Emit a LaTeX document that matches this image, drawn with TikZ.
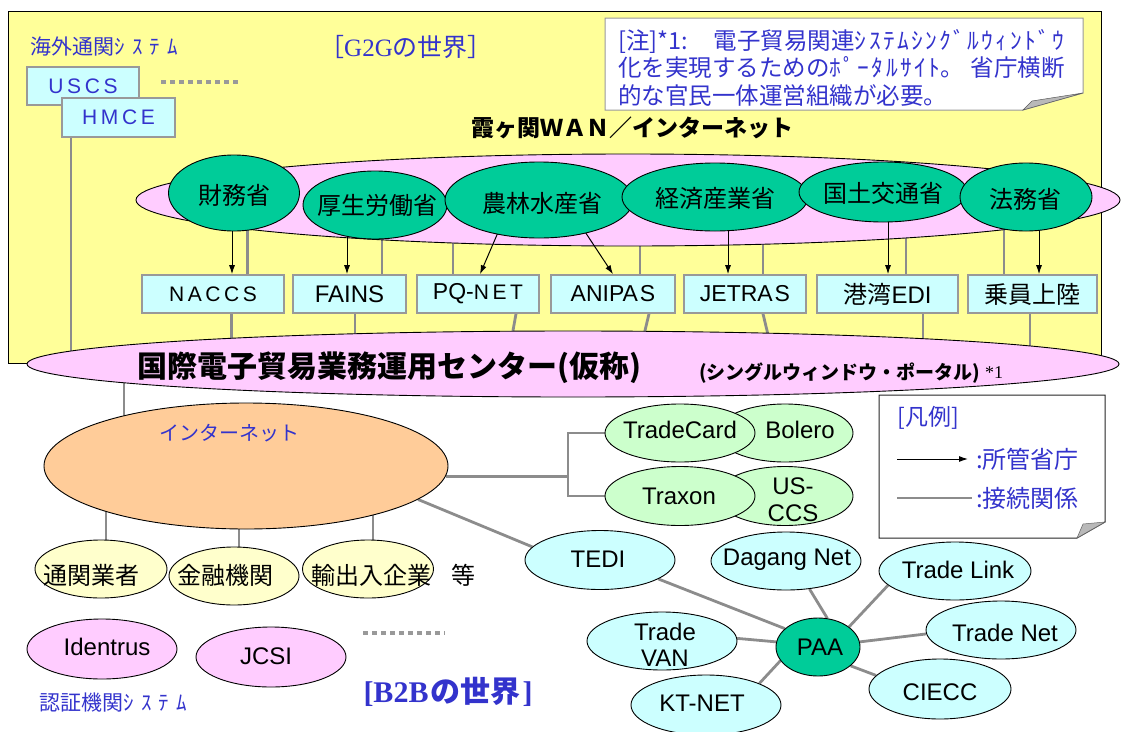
\documentclass[tikz,border=0pt]{standalone}
\usepackage{fontspec}
\setmainfont{Liberation Sans}
\newfontfamily\jp{Noto Sans CJK JP}
\newfontfamily\serif{Liberation Serif}
\usetikzlibrary{shapes.geometric,arrows.meta,calc}
\pgfdeclarelayer{l0}\pgfdeclarelayer{l1}\pgfdeclarelayer{l2}\pgfdeclarelayer{l3}
\pgfsetlayers{l0,l1,l2,l3,main}
\newcommand\myfs[1]{\fontsize{#1}{#1}\selectfont}
\newcommand\lgap{\hspace{3.6pt}}
\definecolor{yel}{HTML}{FFFF99}
\definecolor{pinkL}{HTML}{FFCCFF}
\definecolor{greenD}{HTML}{00CC99}
\definecolor{cyanL}{HTML}{CCFFFF}
\definecolor{orangeL}{HTML}{FFCC99}
\definecolor{yelL}{HTML}{FFFFCC}
\definecolor{greenL}{HTML}{CCFFCC}
\definecolor{blu}{HTML}{3333CC}
\definecolor{conngray}{HTML}{8C8C8C}
\definecolor{boxgray}{HTML}{999999}
\begin{document}
\begin{tikzpicture}[x=1pt,y=-1pt,
  E/.style 2 args={ellipse, draw=black, line width=0.9pt, inner sep=0pt, minimum width=#1, minimum height=#2},
  sbox/.style={rectangle, draw=boxgray, line width=1.6pt, fill=cyanL, inner sep=0pt, minimum height=38pt},
  conn/.style={draw=conngray, line width=2.8pt},
  arr/.style={draw=black, line width=1pt, -{Latex[length=9pt,width=6pt]}},
  txt/.style={inner sep=0pt, font=\jp\myfs{24}},
  ltx/.style={inner sep=0pt, font=\myfs{24}},
  btxt/.style={inner sep=0pt, text=blu},
  dotl/.style={draw=boxgray, line width=4pt, dash pattern=on 5pt off 4pt}]
\useasboundingbox (0,0) rectangle (1121,731);

\begin{pgfonlayer}{l0}
\draw[fill=yel, line width=0.9pt] (8,11) rectangle (1101,363);
\end{pgfonlayer}

% ---------- top left
\node[btxt, anchor=west, font=\jp\myfs{21}] (kaigai) at (30,47) {海外通関{\addfontfeature{LetterSpace=35}ｼｽﾃﾑ}};
\node[btxt, font=\myfs{25}] (g2g) at (406,47) {{\jp ［}{\serif G2G}{\jp の世界］}};
\node[sbox, minimum width=112pt, text=blu, font=\myfs{21}] (uscs) at (83,86) {U\lgap S\lgap C\lgap S};
\node[sbox, minimum width=113pt, minimum height=39pt, text=blu, font=\myfs{21}] (hmce) at (118.5,117.5) {H\lgap M\lgap C\lgap E};
\draw[dotl] (161,82) -- (239,82);

% ---------- note
\draw[fill=white, draw=boxgray, line width=1pt] (605,18) -- (1083,18) -- (1083,93) -- (1023,110) -- (605,110) -- cycle;
\fill[gray!55, draw=gray!70!black, line width=0.5pt] (1023,110) -- (1083,93) -- (1032,101) -- cycle;
\node[btxt, anchor=north west, align=left, font=\jp\fontsize{23.5}{27.5}\selectfont] (note) at (618,29)
 {[注]*1:\hspace{1.1em}電子貿易関連{\addfontfeature{LetterSpace=10}ｼｽﾃﾑｼﾝｸﾞﾙｳｨﾝﾄﾞｳ}\\
  化を実現するための{\addfontfeature{LetterSpace=10}ﾎﾟｰﾀﾙｻｲﾄ}。\hspace{0.3em}省庁横断\\
  的な官民一体運営組織が必要。};

\node[inner sep=0pt, font=\jp\bfseries\myfs{23}] (wantitle) at (632,128) {霞ヶ関ＷＡＮ／インターネット};

% ---------- big ellipses
\begin{pgfonlayer}{l2}
\node[E={984pt}{92pt}, fill=pinkL] (wan) at (628,200) {};
\node[E={1092pt}{66pt}, fill=pinkL] (cen) at (573,364) {};
\node[E={404pt}{126pt}, fill=orangeL] (inet) at (246,466) {};
\end{pgfonlayer}

% ---------- ministries
\node[E={131pt}{76pt}, fill=greenD] (zaimu) at (234,193) {};
\node[E={144pt}{68pt}, fill=greenD] (kosei) at (375,205) {};
\node[E={188pt}{76pt}, fill=greenD] (norin) at (539,200) {};
\node[E={186pt}{68pt}, fill=greenD] (keizai) at (715,197) {};
\node[E={168pt}{60pt}, fill=greenD] (kokudo) at (883,192) {};
\node[E={132pt}{68pt}, fill=greenD] (homu) at (1026,197) {};
\node[txt] (zaimuT) at (234,195) {財務省};
\node[txt] (koseiT) at (377,205) {厚生労働省};
\node[txt] (norinT) at (542,203) {農林水産省};
\node[txt] (keizaiT) at (715,198) {経済産業省};
\node[txt] (kokudoT) at (883,193) {国土交通省};
\node[txt] (homuT) at (1025,199) {法務省};

% ---------- systems
\node[sbox, minimum width=142pt, font=\myfs{21}] (naccs) at (213,294) {N\lgap A\lgap C\lgap C\lgap S};
\node[sbox, minimum width=113pt, font=\myfs{24}] (fains) at (349.5,294) {FAINS};
\node[sbox, minimum width=122pt, font=\myfs{23}] (pqnet) at (478,294) {PQ-{\myfs{21}N\lgap E\lgap T}};
\node[sbox, minimum width=124pt, font=\myfs{23}] (anipas) at (613,294) {ANIPA\hspace{2pt}S};
\node[sbox, minimum width=122pt, font=\myfs{23}] (jetras) at (745,294) {JETRA\hspace{2pt}S};
\node[sbox, minimum width=141pt, font=\myfs{24}] (kowan) at (887.5,294) {{\jp 港湾}EDI};
\node[sbox, minimum width=129pt, font=\jp\myfs{24}] (join) at (1032.5,294) {乗員上陸};

% ---------- arrows (ministry -> system)
\begin{pgfonlayer}{l3}
\draw[arr] ($(zaimu.center)+(-2,0)$) -- ($(zaimu.center |- naccs.north)+(-2,0)$);
\draw[arr] ($(kosei.center)+(-28,0)$) -- ($(kosei.center |- fains.north)+(-28,0)$);
\draw[arr] ($(norin.center)+(-27,0)$) -- ($(pqnet.north)+(2,0)$);
\draw[arr] ($(norin.center)+(25,0)$) -- (anipas.north);
\draw[arr] ($(keizai.center)+(13,0)$) -- ($(keizai.center |- jetras.north)+(13,0)$);
\draw[arr] ($(kokudo.center)+(5,0)$) -- ($(kokudo.center |- kowan.north)+(5,0)$);
\draw[arr] ($(homu.center)+(13,0)$) -- ($(homu.center |- join.north)+(13,0)$);
\end{pgfonlayer}

% ---------- centre texts
\node[inner sep=0pt, anchor=west, font=\jp\bfseries\myfs{30}] (cenT) at (137,368) {国際電子貿易業務運用センター(仮称)};
\node[inner sep=0pt, anchor=west, font=\jp\bfseries\myfs{19}] (cenT2) at (699,373) {(シングルウィンドウ・ポータル)};
\node[inner sep=0pt, anchor=west, font=\serif\myfs{18}] (cenT3) at (985,373) {*1};

% ---------- B2B side
\node[btxt, font=\jp\myfs{20}] (inetT) at (229,433) {インターネット};
\node[E={132pt}{58pt}, fill=yelL] (tsukan) at (101,569) {};
\node[E={130pt}{58pt}, fill=yelL] (kinyu) at (234,576) {};
\node[E={131pt}{58pt}, fill=yelL] (yushutsu) at (368,569) {};
\node[txt] (tsukanT) at (91,575) {通関業者};
\node[txt] (kinyuT) at (225,575) {金融機関};
\node[txt] (yushutsuT) at (371,575) {輸出入企業};
\node[txt] (toT) at (463,575) {等};

\node[E={150pt}{60pt}, fill=pinkL] (identrus) at (102,649) {};
\node[E={150pt}{60pt}, fill=pinkL] (jcsi) at (271,657) {};
\node[ltx] (identrusT) at (107,647) {Identrus};
\node[ltx] (jcsiT) at (266,656) {JCSI};
\draw[dotl] (363,633) -- (445,633);
\node[btxt, anchor=west, font=\jp\myfs{21}] (ninsho) at (39,703) {認証機関{\addfontfeature{LetterSpace=35}ｼｽﾃﾑ}};
\node[btxt, font=\bfseries\myfs{30}] (b2b) at (448,692) {{\serif [B2B}{\jp\hspace{2pt}の世界\hspace{2pt}}{\serif ]}};

\node[E={136pt}{58pt}, fill=greenL] (bolero) at (785,433) {};
\node[E={150pt}{58pt}, fill=greenL] (tcard) at (680,433) {};
\node[E={136pt}{59pt}, fill=greenL] (usccs) at (785,496) {};
\node[E={150pt}{59pt}, fill=greenL] (traxon) at (680,496) {};
\node[ltx] (tcardT) at (680,430) {TradeCard};
\node[ltx] (boleroT) at (800,430) {Bolero};
\node[ltx] (traxonT) at (679,496) {Traxon};
\node[ltx, align=center, font=\fontsize{24}{27}\selectfont] (usccsT) at (793,500) {US-\\CCS};

\node[E={150pt}{59pt}, fill=cyanL] (tedi) at (600,560) {};
\node[E={150pt}{58pt}, fill=cyanL] (dagang) at (786,561) {};
\node[E={152pt}{58pt}, fill=cyanL] (tlink) at (955,571) {};
\node[E={150pt}{58pt}, fill=cyanL] (tnet) at (1001,630) {};
\node[E={142pt}{60pt}, fill=cyanL] (ciecc) at (940,689) {};
\node[E={150pt}{60pt}, fill=cyanL] (ktnet) at (706,705) {};
\node[E={150pt}{58pt}, fill=cyanL] (tvan) at (662,641) {};
\node[E={84pt}{58pt}, fill=greenD] (paa) at (818,647) {};
\node[ltx] (tediT) at (598,559) {TEDI};
\node[ltx] (dagangT) at (787,560) {Dagang Net};
\node[ltx] (tlinkT) at (958,570) {Trade Link};
\node[ltx] (tnetT) at (1005,633) {Trade Net};
\node[ltx] (cieccT) at (940,692) {CIECC};
\node[ltx] (ktnetT) at (702,703) {KT-NET};
\node[ltx, align=center, font=\fontsize{24}{26}\selectfont] (tvanT) at (665,645) {Trade\\VAN};
\node[ltx] (paaT) at (820,647) {PAA};

% ---------- legend
\draw[fill=white, draw=black!85, line width=1pt] (879,395) -- (1105,395) -- (1105,522) -- (1077,538) -- (879,538) -- cycle;
\fill[gray!55, draw=black!60, line width=0.5pt] (1077,538) -- (1105,522) -- (1083,524) -- cycle;
\node[btxt, font=\jp\myfs{23}] (hanrei) at (928,418) {[凡例]};
\coordinate (la1) at (897,459); \coordinate (la2) at (968,459);
\draw[arr] (la1) -- (la2);
\node[btxt, anchor=west, font=\jp\myfs{24}] (lg1) at (976,459) {:所管省庁};
\coordinate (lb1) at (897,498); \coordinate (lb2) at (972,498);
\draw[conn] (lb1) -- (lb2);
\node[btxt, anchor=west, font=\jp\myfs{24}] (lg2) at (976,498) {:接続関係};

% ---------- gray connectors
\coordinate (brk) at (568,466);
\begin{pgfonlayer}{l1}
% WAN -> systems
\draw[conn] ($(naccs.north)+(34.5,0)$) -- ($(naccs.north |- wan.center)+(34.5,0)$);
\draw[conn] ($(fains.north)+(32.5,0)$) -- ($(fains.north |- wan.center)+(32.5,0)$);
\draw[conn] ($(pqnet.north)+(-25,0)$) -- ($(pqnet.north |- wan.center)+(-25,0)$);
\draw[conn] ($(anipas.north)+(27,0)$) -- ($(anipas.north |- wan.center)+(27,0)$);
\draw[conn] ($(jetras.north)+(18,0)$) -- ($(jetras.north |- wan.center)+(18,0)$);
\draw[conn] ($(kowan.north)+(18.5,0)$) -- ($(kowan.north |- wan.center)+(18.5,0)$);
\draw[conn] ($(join.north)+(-28.5,0)$) -- ($(join.north |- wan.center)+(-28.5,0)$);
% systems -> centre
\draw[conn] ($(naccs.south)+(18.5,0)$) -- ($(naccs.south |- cen.center)+(18.5,0)$);
\draw[conn] ($(fains.south)+(5.5,0)$) -- ($(fains.south |- cen.center)+(5.5,0)$);
\draw[conn] ($(pqnet.south)+(38,0)$) -- ($(pqnet.south |- cen.center)+(29,0)$);
\draw[conn] ($(anipas.south)+(36,0)$) -- ($(anipas.south |- cen.center)+(24,0)$);
\draw[conn] ($(jetras.south)+(18,0)$) -- ($(jetras.south |- cen.center)+(30,0)$);
\draw[conn] ($(kowan.south)+(35.5,0)$) -- ($(kowan.south |- cen.center)+(35.5,0)$);
\draw[conn] ($(join.south)+(-2.5,0)$) -- ($(join.south |- cen.center)+(-2.5,0)$);
% HMCE -> centre, centre -> internet
\draw[conn] ($(hmce.south)+(-47.5,0)$) -- ($(hmce.south |- cen.center)+(-47.5,0)$);
\draw[conn] ($(inet.center)+(-122,0)$) -- ($(inet.center |- cen.center)+(-122,0)$);
% internet -> users
\draw[conn] ($(tsukan.center)+(5,0)$) -- ($(tsukan.center |- inet.center)+(5,0)$);
\draw[conn] ($(kinyu.center)+(5,0)$) -- ($(kinyu.center |- inet.center)+(5,0)$);
\draw[conn] ($(yushutsu.center)+(5,0)$) -- ($(yushutsu.center |- inet.center)+(5,0)$);
% internet -> B2B platforms
\draw[conn] (inet.357) -- (inet.357 -| brk);
\draw[conn] (tcard.west) -- (tcard.west -| brk) -- (traxon.west -| brk) -- (traxon.west);
\draw[conn] (inet.349) -- (tedi.169);
% PAA network
\draw[conn] (tedi.342) -- (paa.151);
\draw[conn] (dagang.310) -- (paa.72);
\draw[conn] (tlink.192) -- (paa.33);
\draw[conn] (tnet.183) -- (paa.7);
\draw[conn] (ciecc.168) -- (paa.330);
\draw[conn] (ktnet.22) -- (paa.200);
\draw[conn] (tvan.2) -- (paa.173);
\end{pgfonlayer}
\end{tikzpicture}
\end{document}
